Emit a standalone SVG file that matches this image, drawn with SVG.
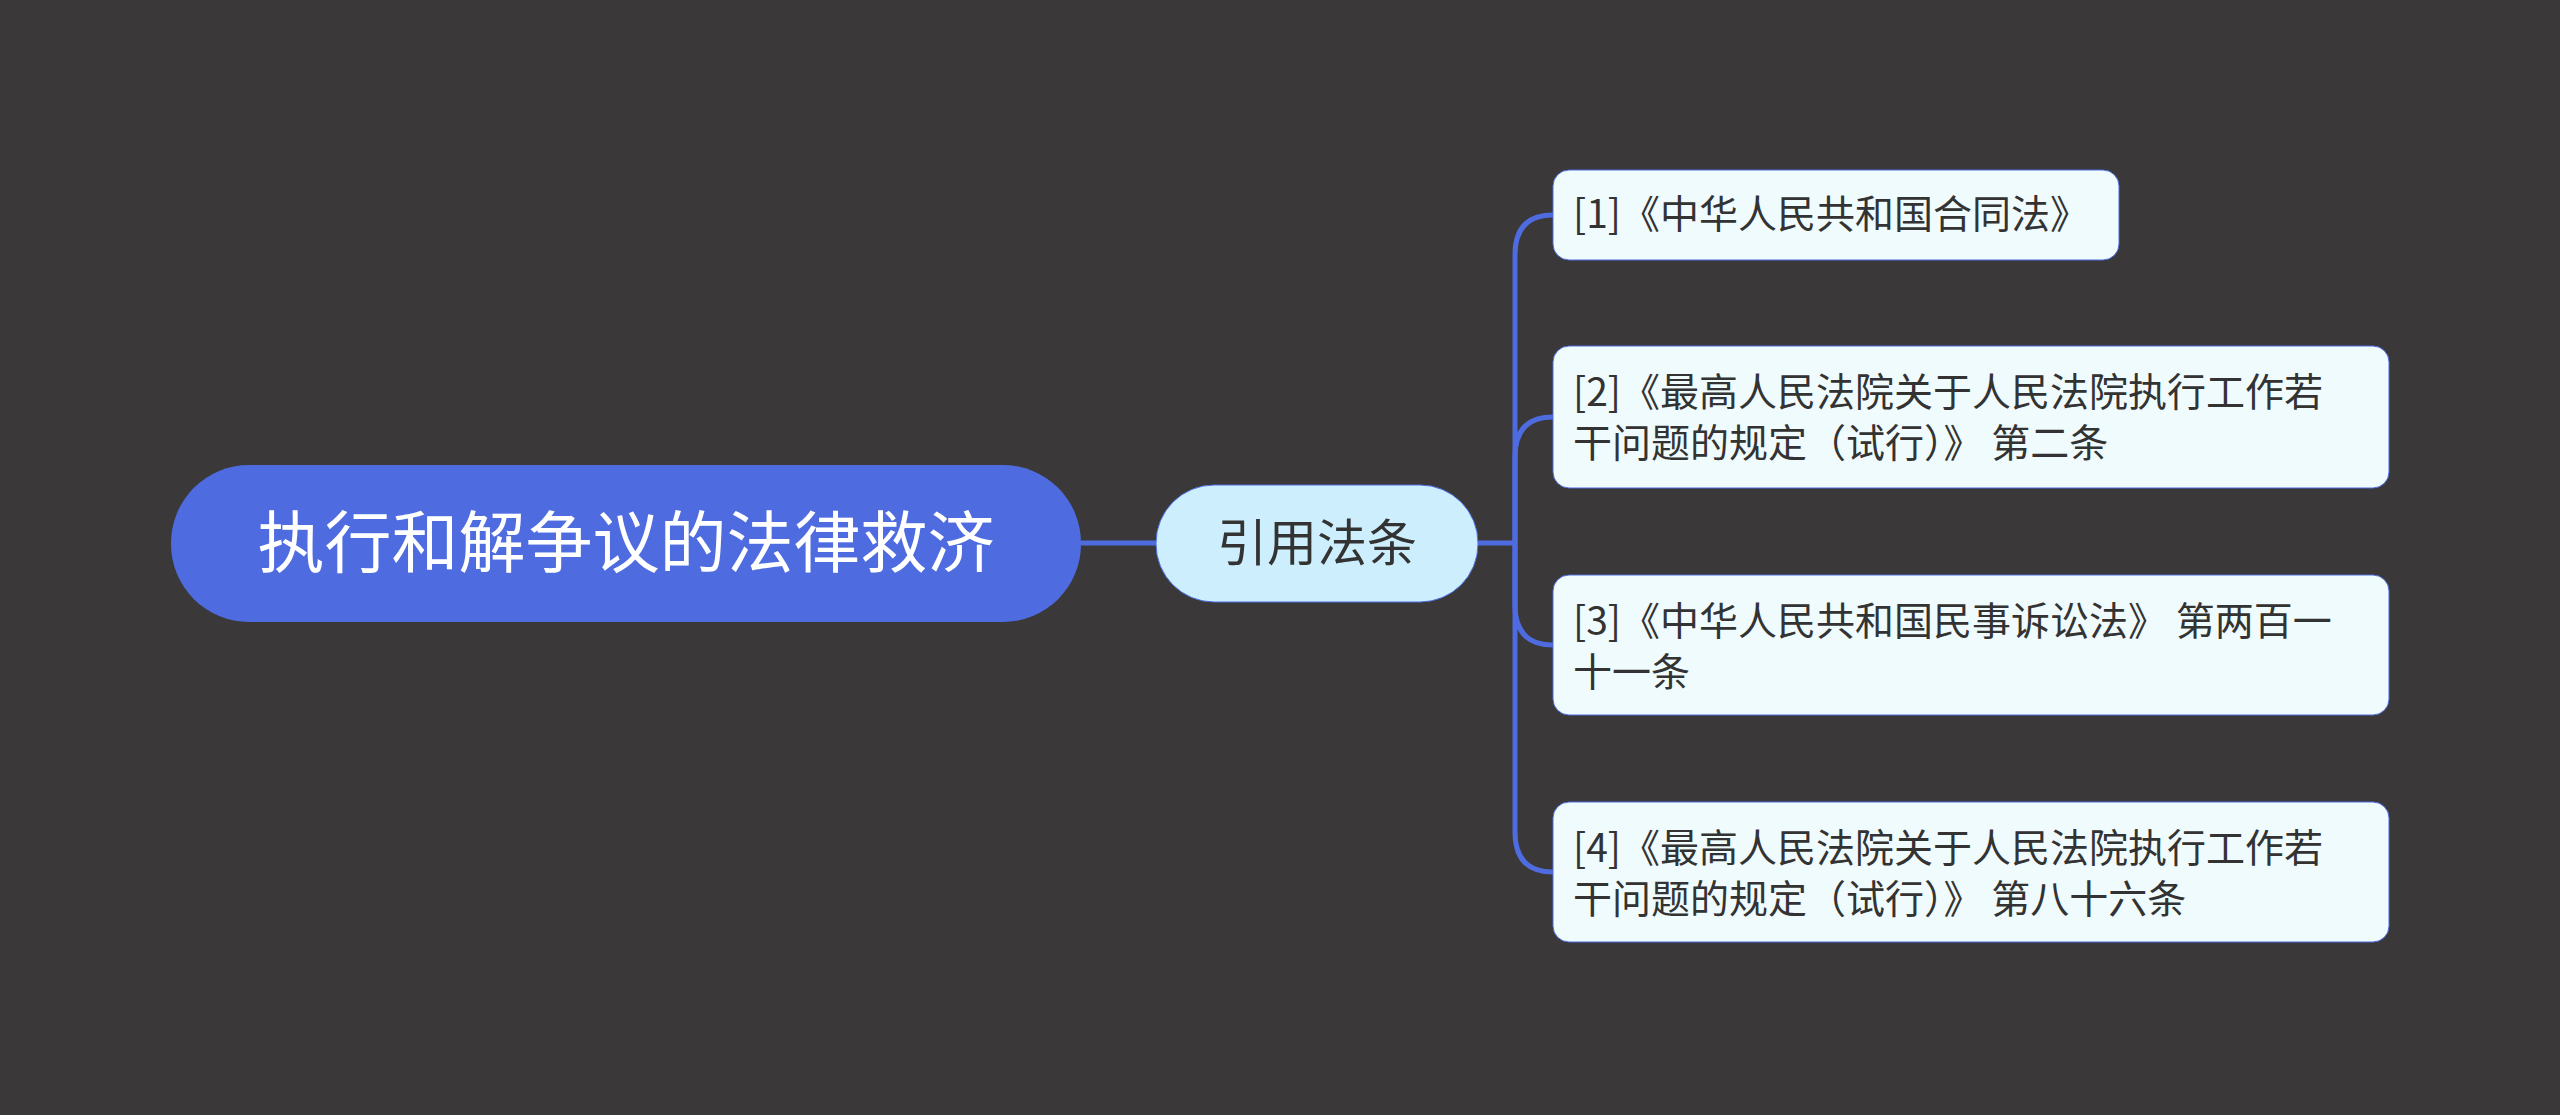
<svg xmlns="http://www.w3.org/2000/svg" width="2560" height="1115" viewBox="0 0 2560 1115">
<style>
text{font-family:"Noto Sans CJK SC","Liberation Sans",sans-serif}
.leaf rect{fill:#f0fbfd;stroke:#4e6ce0;stroke-width:1}
.leaf text{font-size:39px;fill:#333}
.c{fill:none;stroke:#4e6ce0;stroke-width:5}
</style>
<rect width="2560" height="1115" fill="#3a3839"/>
<g id="connectors">
<path class="c" d="M1081 543H1156"/>
<path class="c" d="M1478 543H1515"/>
<path class="c" d="M1515 543V255Q1515 215 1553 215"/>
<path class="c" d="M1515 543V457Q1515 417 1553 417"/>
<path class="c" d="M1515 543V605Q1515 645 1553 645"/>
<path class="c" d="M1515 543V832Q1515 872 1553 872"/>
</g>
<g id="root"><rect x="171" y="465" width="910" height="157" rx="78" fill="#4e6ce0"/>
<text x="626" y="567" font-size="67" fill="#fff" text-anchor="middle">执行和解争议的法律救济</text></g>
<g id="mid"><rect x="1156" y="485" width="322" height="117" rx="58" fill="#cdeffd" stroke="#4e6ce0" stroke-width="1"/>
<text x="1317" y="561" font-size="50" fill="#333" text-anchor="middle">引用法条</text></g>
<g id="leaf1" class="leaf"><rect x="1553" y="170" width="566" height="90" rx="16"/>
<text x="1573" y="228">[1]《中华人民共和国合同法》</text></g>
<g id="leaf2" class="leaf"><rect x="1553" y="346" width="836" height="142" rx="16"/>
<text x="1573" y="406">[2]《最高人民法院关于人民法院执行工作若</text><text x="1573" y="457">干问题的规定（试行）》 第二条</text></g>
<g id="leaf3" class="leaf"><rect x="1553" y="575" width="836" height="140" rx="16"/>
<text x="1573" y="635">[3]《中华人民共和国民事诉讼法》 第两百一</text><text x="1573" y="686">十一条</text></g>
<g id="leaf4" class="leaf"><rect x="1553" y="802" width="836" height="140" rx="16"/>
<text x="1573" y="862">[4]《最高人民法院关于人民法院执行工作若</text><text x="1573" y="913">干问题的规定（试行）》 第八十六条</text></g>
</svg>
